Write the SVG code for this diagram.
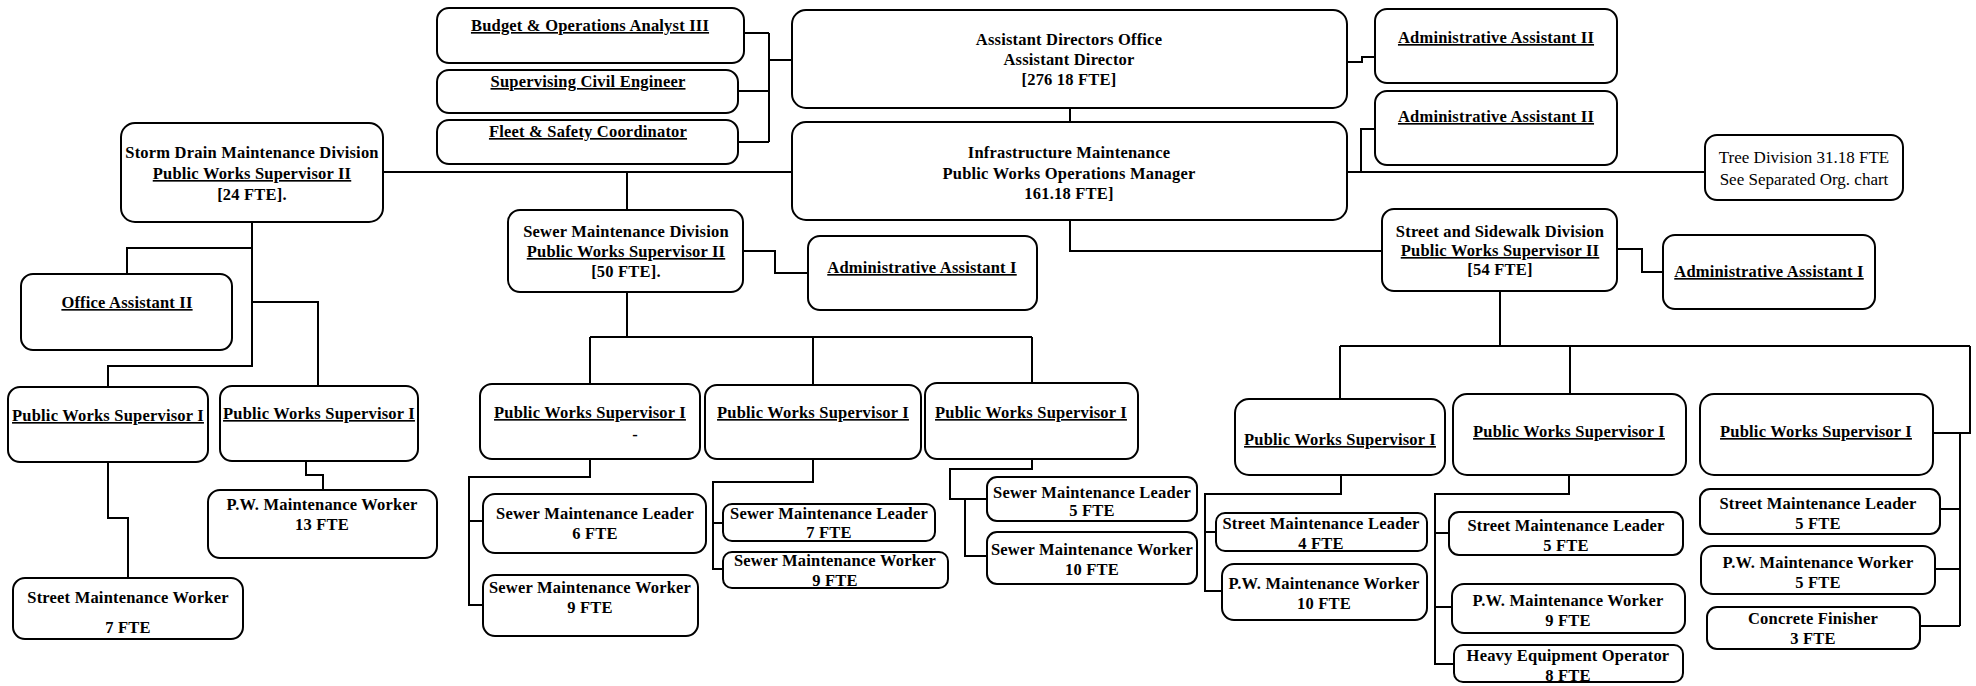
<svg xmlns="http://www.w3.org/2000/svg" width="1976" height="686" viewBox="0 0 1976 686">
<style>
.b{fill:#fff;stroke:#000;stroke-width:2}
.t{font-family:"Liberation Serif","Times New Roman",serif;font-weight:bold;font-size:16.5px;letter-spacing:0.2px;fill:#000;text-anchor:middle}
.u{text-decoration:underline}
.r{font-family:"Liberation Serif","Times New Roman",serif;font-weight:normal;font-size:17px;fill:#000;text-anchor:middle}
.c{fill:none;stroke:#000;stroke-width:2}
</style>
<rect width="1976" height="686" fill="#fff"/>
<g id="connectors" class="c">
<path d="M745,33 H769 M739,91 H769 M739,142 H769 M769,33 V142 M769,60 H792"/>
<path d="M1070,108 V122"/>
<path d="M1347,62 H1362 V57 H1375"/>
<path d="M383,172 H792 M1347,172 H1705 M1361,172 V129 H1375"/>
<path d="M627,172 V210"/>
<path d="M1070,220 V251 H1382"/>
<path d="M252,222 V367 M252,248 H127 V274 M252,302 H318 V386 M252,366 H108 V387"/>
<path d="M108,462 V518 H128 V578"/>
<path d="M306,461 V475 H323 V490"/>
<path d="M627,292 V337 M590,337 H1032 M590,337 V384 M813,337 V385 M1032,337 V383"/>
<path d="M743,251 H775 V273 H808"/>
<path d="M1617,249 H1642 V272 H1663"/>
<path d="M590,459 V477 H469 V605 H483 M469,521 H483"/>
<path d="M813,459 V482 H713 V569 H723 M713,523 H723"/>
<path d="M1032,459 V469 H950 V499 H987 M965,499 V556 H987"/>
<path d="M1500,291 V346 M1340,346 H1970 M1340,346 V399 M1570,346 V394 M1970,346 V433 H1933 M1960,433 V626"/>
<path d="M1960,509 H1933 M1960,569 H1933 M1960,626 H1919"/>
<path d="M1341,475 V494 H1205 V591 H1222 M1205,532 H1216"/>
<path d="M1569,475 V494 H1435 V664 H1454 M1435,533 H1449 M1435,607 H1452"/>
</g>
<g id="budget"><rect class="b" x="437" y="8" width="307" height="55" rx="12"/><text class="t u" x="590" y="31">Budget &amp; Operations Analyst III</text></g>
<g id="civil"><rect class="b" x="437" y="70" width="301" height="43" rx="12"/><text class="t u" x="588" y="87">Supervising Civil Engineer</text></g>
<g id="fleet"><rect class="b" x="437" y="120" width="301" height="44" rx="12"/><text class="t u" x="588" y="137">Fleet &amp; Safety Coordinator</text></g>
<g id="assistant-director"><rect class="b" x="792" y="10" width="555" height="98" rx="14"/><text class="t" x="1069" y="45">Assistant Directors Office</text><text class="t" x="1069" y="65">Assistant Director</text><text class="t" x="1069" y="85">[276 18 FTE]</text></g>
<g id="admin2-a"><rect class="b" x="1375" y="9" width="242" height="74" rx="12"/><text class="t u" x="1496" y="43">Administrative Assistant II</text></g>
<g id="infrastructure"><rect class="b" x="792" y="122" width="555" height="98" rx="14"/><text class="t" x="1069" y="158">Infrastructure Maintenance</text><text class="t" x="1069" y="179">Public Works Operations Manager</text><text class="t" x="1069" y="199">161.18 FTE]</text></g>
<g id="admin2-b"><rect class="b" x="1375" y="91" width="242" height="74" rx="12"/><text class="t u" x="1496" y="122">Administrative Assistant II</text></g>
<g id="tree"><rect class="b" x="1705" y="135" width="198" height="65" rx="12"/><text class="r" x="1804" y="163">Tree Division 31.18 FTE</text><text class="r" x="1804" y="185">See Separated Org. chart</text></g>
<g id="storm-drain"><rect class="b" x="121" y="123" width="262" height="99" rx="14"/><text class="t" x="252" y="158">Storm Drain Maintenance Division</text><text class="t u" x="252" y="179">Public Works Supervisor II</text><text class="t" x="252" y="200">[24 FTE].</text></g>
<g id="sewer-division"><rect class="b" x="508" y="210" width="235" height="82" rx="12"/><text class="t" x="626" y="237">Sewer Maintenance Division</text><text class="t u" x="626" y="257">Public Works Supervisor II</text><text class="t" x="626" y="277">[50 FTE].</text></g>
<g id="sewer-admin"><rect class="b" x="808" y="236" width="229" height="74" rx="12"/><text class="t u" x="922" y="273">Administrative Assistant I</text></g>
<g id="street-division"><rect class="b" x="1382" y="209" width="235" height="82" rx="12"/><text class="t" x="1500" y="237">Street and Sidewalk Division</text><text class="t u" x="1500" y="256">Public Works Supervisor II</text><text class="t" x="1500" y="275">[54 FTE]</text></g>
<g id="street-admin"><rect class="b" x="1663" y="235" width="212" height="74" rx="12"/><text class="t u" x="1769" y="277">Administrative Assistant I</text></g>
<g id="office-assistant"><rect class="b" x="21" y="274" width="211" height="76" rx="12"/><text class="t u" x="127" y="308">Office Assistant II</text></g>
<g id="sd-pws1"><rect class="b" x="8" y="387" width="200" height="75" rx="12"/><text class="t u" x="108" y="421">Public Works Supervisor I</text></g>
<g id="sd-pws2"><rect class="b" x="220" y="386" width="198" height="75" rx="12"/><text class="t u" x="319" y="419">Public Works Supervisor I</text></g>
<g id="sd-pw-worker"><rect class="b" x="208" y="490" width="229" height="68" rx="12"/><text class="t" x="322" y="510">P.W. Maintenance Worker</text><text class="t" x="322" y="530">13 FTE</text></g>
<g id="sd-street-worker"><rect class="b" x="13" y="578" width="230" height="61" rx="12"/><text class="t" x="128" y="603">Street Maintenance Worker</text><text class="t" x="128" y="633">7 FTE</text></g>
<g id="s1"><rect class="b" x="480" y="384" width="220" height="75" rx="12"/><text class="t u" x="590" y="418">Public Works Supervisor I</text><text class="t" x="635" y="440">-</text></g>
<g id="s2"><rect class="b" x="705" y="385" width="216" height="74" rx="12"/><text class="t u" x="813" y="418">Public Works Supervisor I</text></g>
<g id="s3"><rect class="b" x="925" y="383" width="213" height="76" rx="12"/><text class="t u" x="1031" y="418">Public Works Supervisor I</text></g>
<g id="s1-leader"><rect class="b" x="483" y="494" width="223" height="59" rx="12"/><text class="t" x="595" y="519">Sewer Maintenance Leader</text><text class="t" x="595" y="539">6 FTE</text></g>
<g id="s1-worker"><rect class="b" x="483" y="575" width="215" height="61" rx="12"/><text class="t" x="590" y="593">Sewer Maintenance Worker</text><text class="t" x="590" y="613">9 FTE</text></g>
<g id="s2-leader"><rect class="b" x="723" y="504" width="212" height="37" rx="9"/><text class="t" x="829" y="519">Sewer Maintenance Leader</text><text class="t" x="829" y="538">7 FTE</text></g>
<g id="s2-worker"><rect class="b" x="723" y="552" width="225" height="36" rx="9"/><text class="t" x="835" y="566">Sewer Maintenance Worker</text><text class="t" x="835" y="586">9 FTE</text></g>
<g id="s3-leader"><rect class="b" x="987" y="477" width="210" height="44" rx="10"/><text class="t" x="1092" y="498">Sewer Maintenance Leader</text><text class="t" x="1092" y="516">5 FTE</text></g>
<g id="s3-worker"><rect class="b" x="987" y="532" width="210" height="52" rx="10"/><text class="t" x="1092" y="555">Sewer Maintenance Worker</text><text class="t" x="1092" y="575">10 FTE</text></g>
<g id="st-pws-a"><rect class="b" x="1235" y="399" width="210" height="76" rx="14"/><text class="t u" x="1340" y="445">Public Works Supervisor I</text></g>
<g id="st-pws-b"><rect class="b" x="1453" y="394" width="233" height="81" rx="14"/><text class="t u" x="1569" y="437">Public Works Supervisor I</text></g>
<g id="st-pws-c"><rect class="b" x="1700" y="394" width="233" height="81" rx="14"/><text class="t u" x="1816" y="437">Public Works Supervisor I</text></g>
<g id="a-leader"><rect class="b" x="1216" y="513" width="211" height="38" rx="9"/><text class="t" x="1321" y="529">Street  Maintenance Leader</text><text class="t" x="1321" y="549">4 FTE</text></g>
<g id="a-worker"><rect class="b" x="1222" y="564" width="205" height="56" rx="12"/><text class="t" x="1324" y="589">P.W. Maintenance Worker</text><text class="t" x="1324" y="609">10 FTE</text></g>
<g id="b-leader"><rect class="b" x="1449" y="512" width="234" height="43" rx="10"/><text class="t" x="1566" y="531">Street Maintenance Leader</text><text class="t" x="1566" y="551">5 FTE</text></g>
<g id="b-worker"><rect class="b" x="1452" y="584" width="233" height="49" rx="12"/><text class="t" x="1568" y="606">P.W. Maintenance Worker</text><text class="t" x="1568" y="626">9 FTE</text></g>
<g id="b-heavy"><rect class="b" x="1454" y="645" width="229" height="37" rx="9"/><text class="t" x="1568" y="661">Heavy Equipment Operator</text><text class="t" x="1568" y="681">8 FTE</text></g>
<g id="c-leader"><rect class="b" x="1700" y="489" width="240" height="45" rx="10"/><text class="t" x="1818" y="509">Street Maintenance Leader</text><text class="t" x="1818" y="529">5 FTE</text></g>
<g id="c-worker"><rect class="b" x="1701" y="546" width="234" height="48" rx="12"/><text class="t" x="1818" y="568">P.W. Maintenance Worker</text><text class="t" x="1818" y="588">5 FTE</text></g>
<g id="c-concrete"><rect class="b" x="1707" y="607" width="213" height="42" rx="10"/><text class="t" x="1813" y="624">Concrete Finisher</text><text class="t" x="1813" y="644">3 FTE</text></g>
</svg>
